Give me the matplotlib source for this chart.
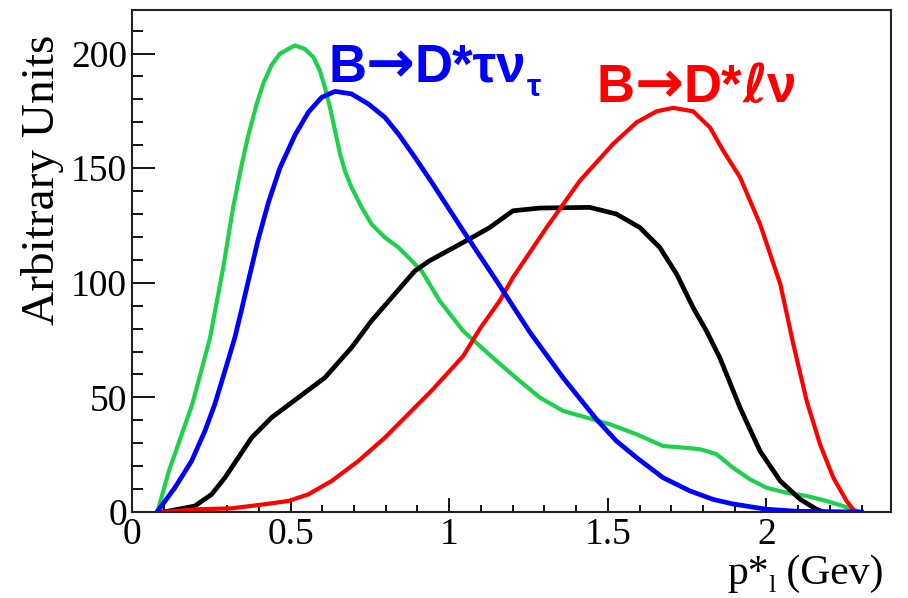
import matplotlib
matplotlib.use('Agg')
import matplotlib.pyplot as plt
from matplotlib.ticker import MultipleLocator

plt.rcParams['font.family'] = ['Liberation Serif', 'DejaVu Serif']

# values
green_x = [0.08, 0.116, 0.19, 0.246, 0.288, 0.319, 0.345, 0.366, 0.393, 0.414, 0.44, 0.466,
           0.503, 0.514, 0.545, 0.572, 0.592, 0.608, 0.624, 0.64, 0.656, 0.671, 0.692, 0.724,
           0.755, 0.797, 0.84, 0.882, 0.913, 0.97, 1.044, 1.149, 1.222, 1.286, 1.359, 1.433,
           1.506, 1.591, 1.674, 1.738, 1.79, 1.811, 1.843, 1.895, 1.948, 2.0, 2.064, 2.127,
           2.19, 2.242, 2.295]
green_y = [0, 17.8, 47, 76, 107, 133, 151, 164, 178, 187, 195, 199.9,
           202.8, 203.5, 202, 198.4, 192.6, 185.3, 176.6, 166.4, 156.2, 148.9, 141.6, 132.9,
           125.6, 119.8, 115.4, 109.6, 105.2, 92.1, 79, 65.9, 57.2, 49.9, 44.1, 41.2,
           38.3, 33.9, 28.8, 28.1, 27.4, 26.6, 25.2, 19.3, 14.3, 10.6, 8.4, 7.0,
           4.8, 2.6, 0.1]

blue_x = [0.081, 0.135, 0.188, 0.23, 0.261, 0.293, 0.324, 0.345, 0.367, 0.398, 0.43, 0.466,
          0.514, 0.556, 0.598, 0.64, 0.692, 0.745, 0.797, 0.84, 0.892, 0.945, 1.044, 1.149,
          1.254, 1.359, 1.464, 1.527, 1.591, 1.674, 1.759, 1.832, 1.895, 2.0, 2.1, 2.3]
blue_y = [0.4, 10.6, 22.3, 35.4, 47.0, 61.6, 76, 88, 101, 119, 135, 150,
          164.5, 174.4, 180.9, 183.5, 182.4, 178, 172.2, 164.9, 154.7, 143.8, 122.7, 100.9,
          78.5, 58.6, 40.5, 31.0, 23.7, 15.0, 9.2, 5.5, 3.5, 1.2, 0.3, 0]

black_x = [0.1, 0.198, 0.251, 0.293, 0.335, 0.377, 0.44, 0.524, 0.608, 0.692, 0.755, 0.819,
           0.892, 0.938, 1.044, 1.128, 1.201, 1.286, 1.443, 1.527, 1.601, 1.664, 1.717, 1.769,
           1.811, 1.853, 1.917, 1.98, 2.044, 2.107, 2.158, 2.18]
black_y = [0, 2.6, 7.7, 15, 23.7, 32.4, 41.2, 49.9, 58.6, 71.7, 83.4, 93.6,
           105.2, 109.6, 117.6, 124.1, 131.4, 132.6, 132.9, 130, 124.1, 115.4, 103.8, 89.2,
           79, 67.4, 45.5, 26.6, 13.5, 5.5, 1.2, 0]

red_x = [0.09, 0.209, 0.314, 0.419, 0.493, 0.556, 0.629, 0.714, 0.797, 0.871, 0.945, 1.044,
         1.096, 1.159, 1.201, 1.307, 1.412, 1.517, 1.591, 1.654, 1.706, 1.769, 1.822, 1.864,
         1.917, 1.98, 2.044, 2.085, 2.127, 2.169, 2.211, 2.253, 2.28]
red_y = [0, 1.2, 1.6, 3.4, 4.8, 7.7, 13.5, 22.3, 32.4, 42.7, 53, 68,
         79.8, 92.1, 102.3, 124.1, 144.5, 160.6, 170, 174.8, 176.3, 174.8, 167.8, 157.6,
         146, 125.6, 99.4, 73.2, 48.5, 29.6, 15, 4.8, 0]

fig = plt.figure(figsize=(9.08, 5.98), dpi=100)
ax = fig.add_axes([0.1454, 0.1438, 0.8359, 0.8395])

ax.plot(green_x, green_y, color='#1ed14a', lw=3.0, solid_joinstyle='round')
ax.plot(black_x, black_y, color='black', lw=3.4, solid_joinstyle='round')
ax.plot(red_x, red_y, color='#ff0000', lw=3.0, solid_joinstyle='round')
ax.plot(blue_x, blue_y, color='#0000ff', lw=3.4, solid_joinstyle='round')

ax.set_xlim(0, 2.393)
ax.set_ylim(0, 219)

ax.xaxis.set_minor_locator(MultipleLocator(0.1))
ax.yaxis.set_major_locator(MultipleLocator(50))
ax.yaxis.set_minor_locator(MultipleLocator(10))
ax.set_xticks([0, 0.5, 1, 1.5, 2])
ax.set_xticklabels(['0', '0.5', '1', '1.5', '2'])

ax.tick_params(axis='x', which='major', direction='in', length=10, width=1.3, labelsize=27, pad=4)
ax.tick_params(axis='x', which='minor', direction='in', length=5, width=1.3)
ax.tick_params(axis='y', which='major', direction='in', length=16.5, width=1.3, labelsize=27, pad=3.5)
ax.tick_params(axis='y', which='minor', direction='in', length=8, width=1.3)
for s in ax.spines.values():
    s.set_linewidth(1.5)
    s.set_color('#222222')

fig.text(0.047, 0.70, 'Arbitrary Units', rotation=90, ha='center', va='center', fontsize=34)


def chain(x, y, pieces, color, weight='bold'):
    # pieces: (text, fontsize, family, dy) laid out one after another, in figure pixels
    fig.canvas.draw()
    for txt, size, fam, dy in pieces:
        t = fig.text(x, y + dy, txt, color=color, fontsize=size, fontweight=weight,
                     family=fam, va='baseline', ha='left', transform=None)
        fig.canvas.draw()
        x = t.get_window_extent().x1


serif = ['Liberation Serif', 'DejaVu Serif']
chain(727, 14, [('p*', 30, serif, 0), ('l', 19, serif, -8), (' (Gev)', 30, serif, 0)],
      'black', weight='normal')

sans = ['Liberation Sans', 'DejaVu Sans']
arrow = ['DejaVu Sans']
chain(328, 516, [('B', 38, sans, 0), ('→', 42, arrow, 0), ('D*τν', 38, sans, 0),
                 ('τ', 23, sans, -14)], '#0000ff')
chain(597, 496, [('B', 38, sans, 0), ('→', 42, arrow, 0), ('D*', 38, sans, 0),
                 ('ℓ', 38, arrow, 0), ('ν', 38, sans, 0)], '#ff0000')

fig.savefig('out.png', dpi=100)
